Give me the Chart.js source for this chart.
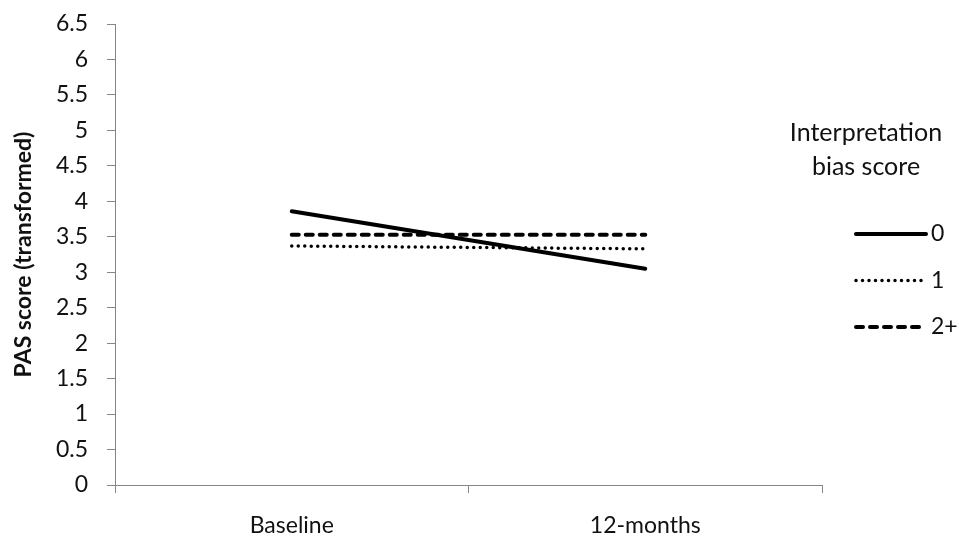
<!DOCTYPE html>
<html>
<head>
<meta charset="utf-8">
<script src="https://cdn.jsdelivr.net/npm/chart.js@4/dist/chart.umd.min.js"></script>
<style>
  html, body { margin: 0; padding: 0; background: #fff; }
  #wrap { width: 959px; height: 541px; position: relative; }
</style>
</head>
<body>
<div id="wrap"><canvas id="chart"></canvas></div>
<script>
// ===== Data =====
const categories   = ['Baseline', '12-months'];
const seriesNames  = ['0', '1', '2+'];
const series0      = [3.86, 3.05];
const series1      = [3.37, 3.33];
const series2      = [3.53, 3.53];
const legendTitle  = ['Interpretation', 'bias score'];
const axisTitle    = 'PAS score (transformed)';

const FONT = 'Lato, "Open Sans", sans-serif';
const AXIS_GREY = '#868686';
const TEXT = '#111';

// ===== Legend drawn on canvas (two-line title + line samples) =====
const sideLegend = {
  id: 'sideLegend',
  afterDraw(chart) {
    const ctx = chart.ctx;
    ctx.save();
    ctx.fillStyle = TEXT;
    ctx.font = '25px ' + FONT;
    ctx.textAlign = 'center';
    ctx.textBaseline = 'middle';
    ctx.fillText(legendTitle[0], 866, 133);
    ctx.fillText(legendTitle[1], 866, 167);

    ctx.font = '23px ' + FONT;
    chart.data.datasets.forEach((ds, i) => {
      const y = 234 + i * 46.5;
      ctx.beginPath();
      ctx.strokeStyle = ds.borderColor;
      ctx.lineWidth = ds.borderWidth;
      ctx.lineCap = ds.borderCapStyle || 'butt';
      ctx.setLineDash(ds.borderDash || []);
      ctx.moveTo(856, y);
      ctx.lineTo(926, y);
      ctx.stroke();
      ctx.setLineDash([]);
      ctx.textAlign = 'left';
      ctx.fillText(ds.label, 931, y);
    });
    ctx.restore();
  }
};

new Chart(document.getElementById('chart'), {
  type: 'line',
  data: {
    labels: categories,
    datasets: [
      { label: seriesNames[0], data: series0, borderColor: '#000', borderWidth: 4,
        borderCapStyle: 'round', pointRadius: 0 },
      { label: seriesNames[1], data: series1, borderColor: '#000', borderWidth: 3.5,
        borderDash: [0, 6.5], borderCapStyle: 'round', pointRadius: 0 },
      { label: seriesNames[2], data: series2, borderColor: '#000', borderWidth: 4,
        borderDash: [7, 7], borderCapStyle: 'round', pointRadius: 0 },
    ],
  },
  options: {
    responsive: true,
    maintainAspectRatio: false,
    animation: false,
    layout: { padding: { top: 24, right: 137, bottom: 0, left: 10 } },
    plugins: {
      legend: { display: false },
      tooltip: { enabled: false },
    },
    scales: {
      x: {
        offset: true,
        afterFit: (s) => { s.height = 56; s.paddingLeft = 0; s.paddingRight = 0; },
        grid: { display: true, drawOnChartArea: false, offset: true, tickLength: 8, color: AXIS_GREY },
        border: { color: AXIS_GREY, width: 1 },
        ticks: { color: TEXT, font: { family: FONT, size: 23 }, padding: 19, maxRotation: 0 },
      },
      y: {
        min: 0,
        max: 6.5,
        afterFit: (s) => { s.width = 105; s.paddingTop = 0; s.paddingBottom = 0; },
        grid: { display: true, drawOnChartArea: false, tickLength: 8, color: AXIS_GREY },
        border: { color: AXIS_GREY, width: 1 },
        ticks: { stepSize: 0.5, color: TEXT, font: { family: FONT, size: 23 }, padding: 19,
                 callback: (v) => String(v) },
        title: {
          display: true,
          text: axisTitle,
          color: TEXT,
          font: { family: FONT, size: 23, weight: 'bold' },
          padding: 0,
        },
      },
    },
  },
  plugins: [sideLegend],
});
</script>
</body>
</html>
